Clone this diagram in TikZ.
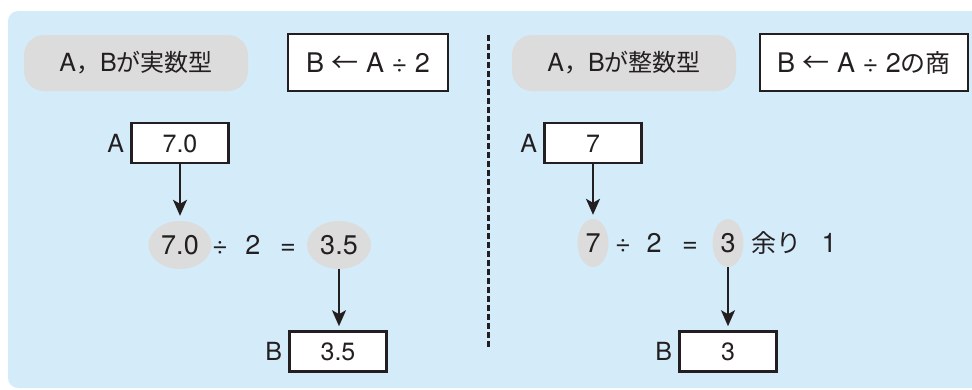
\documentclass[tikz,border=0pt]{standalone}
\usepackage{fontspec}
\setmainfont{TeX Gyre Heros}
\newfontfamily\jp{Noto Sans CJK JP}
\usetikzlibrary{shapes.geometric,arrows.meta}
\definecolor{bgblue}{HTML}{D4ECF9}
\definecolor{pillgray}{HTML}{DCDCDC}
\definecolor{ink}{HTML}{231F20}
\begin{document}
\begin{tikzpicture}[x=1pt,y=-1pt,
 every node/.style={text=ink},
 pill/.style={fill=pillgray, rounded corners=20pt, minimum width=224pt, minimum height=56pt, inner sep=0, font=\fontsize{25}{28}\selectfont},
 topbox/.style={draw=ink, line width=2.6pt, fill=white, minimum height=57pt, inner sep=0, font=\fontsize{27}{30}\selectfont},
 valbox/.style={draw=ink, line width=2.6pt, fill=white, minimum width=97pt, minimum height=40pt, inner sep=0, text height=18pt, text depth=0pt, font=\fontsize{25}{28}\selectfont},
 lab/.style={inner sep=0, text height=18pt, text depth=0pt, font=\fontsize{25}{28}\selectfont},
 expr/.style={inner sep=0, text height=19pt, text depth=0pt, font=\fontsize{27}{30}\selectfont},
 oval/.style={expr, ellipse, fill=pillgray, minimum height=48pt},
 conn/.style={draw=ink, line width=2pt, -{Stealth[length=16pt,width=14pt,inset=4pt]}},
 divider/.style={draw=ink, line width=3pt, dash pattern=on 6pt off 3pt}]
\useasboundingbox (0,0) rectangle (972,389);
\fill[bgblue, rounded corners=10pt] (972,11) -- (8,11) -- (8,388) -- (972,388);
% divider
\coordinate (d1) at (488,35);
\coordinate (d2) at (488,347);
\draw[divider] (d1) -- (d2);
% left half
\node[pill] (p1) at (136,63) {A{\jp\fontsize{24}{28}\selectfont ，}B{\jp\fontsize{24}{28}\selectfont が実数型}};
\node[topbox, minimum width=160pt] (t1) at (368,62.5) {B {\jp ←} A ÷ 2};
\node[valbox] (a1) at (180,143) {7.0};
\node[anchor=east, lab] (la1) at ([xshift=-6pt]a1.west) {A};
\node[oval, minimum width=63pt] (e1) at (180,245) {7.0};
\node[expr] (dv1) at (220,245) {÷};
\node[expr] (two1) at (253,245) {2};
\node[expr] (eq1) at (288,245) {=};
\node[oval, minimum width=64pt] (e2) at (339,245) {3.5};
\node[valbox] (b1) at (338,351.5) {3.5};
\node[anchor=east, lab] (lb1) at ([xshift=-6pt]b1.west) {B};
\draw[conn, shorten >=5pt] (a1.south) -- (a1.south |- e1.north);
\draw[conn, shorten >=4pt] (e2.south) -- (e2.south |- b1.north);
% right half
\node[pill] (p2) at (624,63) {A{\jp\fontsize{24}{28}\selectfont ，}B{\jp\fontsize{24}{28}\selectfont が整数型}};
\node[topbox, minimum width=208pt] (t2) at (864,62.5) {B {\jp ←} A ÷ 2{\jp\fontsize{25}{28}\selectfont の商}};
\node[valbox] (a2) at (593,143) {7};
\node[anchor=east, lab] (la2) at ([xshift=-6pt]a2.west) {A};
\node[oval, minimum width=31pt] (e3) at (593,243) {7};
\node[expr] (dv2) at (623,243) {÷};
\node[expr] (two2) at (654,243) {2};
\node[expr] (eq2) at (690,243) {=};
\node[oval, minimum width=31pt] (e4) at (728,243) {3};
\node[expr] (rem) at (776,243) {\jp\fontsize{25}{28}\selectfont 余り};
\node[expr] (one) at (829,243) {1};
\node[valbox] (b2) at (728,351.5) {3};
\node[anchor=east, lab] (lb2) at ([xshift=-6pt]b2.west) {B};
\draw[conn, shorten >=4pt] (a2.south) -- (a2.south |- e3.north);
\draw[conn, shorten >=4pt] (e4.south) -- (e4.south |- b2.north);
\end{tikzpicture}
\end{document}
